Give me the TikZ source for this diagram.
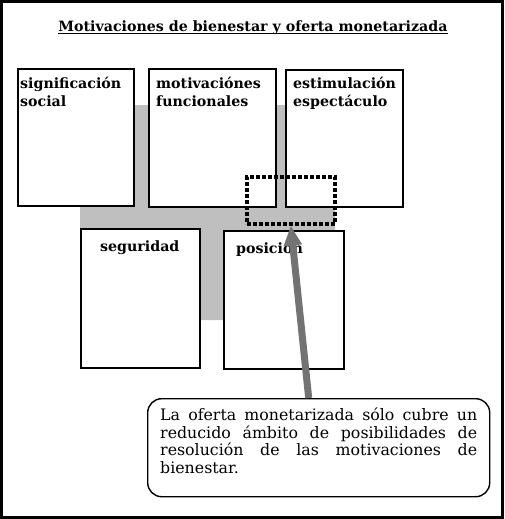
\documentclass[tikz,border=0pt]{standalone}
\usepackage{fontspec}
\setmainfont{DejaVu Serif}
\usetikzlibrary{arrows.meta}

\begin{document}
\begin{tikzpicture}[
  x=1pt, y=-1pt,
  box/.style={draw, line width=1.6pt, fill=white, anchor=north west, inner sep=0pt},
  boxlabel/.style={anchor=north west, align=left, inner sep=0pt, font=\fontsize{14.2}{18}\selectfont\bfseries},
  hatch/.style={draw, line width=3.5pt, dash pattern=on 4pt off 2pt, anchor=north west, inner sep=0pt},
]
  \useasboundingbox (0,0) rectangle (504,519);
  \draw[line width=3pt] (1.5,1.5) rectangle (502.5,517.5);
  \node[anchor=base, inner sep=0pt, font=\fontsize{14.2}{16}\selectfont\bfseries] (title) at (253,32) {Motivaciones de bienestar y oferta monetarizada};
  \draw[line width=1pt] ([yshift=-2pt]title.base west) -- ([yshift=-2pt]title.base east);
  \fill[gray!50, rounded corners=3pt] (80,105) rectangle (335,320);
  \node[box, minimum width=116pt, minimum height=137pt] (sig) at (17,68) {};
  \node[box, minimum width=127pt, minimum height=138pt] (fun) at (148,68) {};
  \node[box, minimum width=117pt, minimum height=137pt] (est) at (285,69) {};
  \node[box, minimum width=119pt, minimum height=139pt] (seg) at (80,228) {};
  \node[box, minimum width=120pt, minimum height=138pt] (pos) at (223,230) {};
  \node[boxlabel] (sigtext) at (20,77) {significación\\social};
  \node[boxlabel] (funtext) at (156,77) {motivaciónes\\funcionales};
  \node[boxlabel] (esttext) at (293,77) {estimulación\\espectáculo};
  \node[boxlabel] (segtext) at (100,241) {seguridad};
  \node[boxlabel] (postext) at (236,242) {posición};
  \node[hatch, minimum width=88pt, minimum height=47pt] (ambito) at (245,175) {};
  \node[draw, line width=1.4pt, fill=white, rounded corners=14pt, anchor=north west,
    minimum width=342pt, minimum height=98pt, text width=317pt, align=justify,
    inner xsep=12.5pt, font=\fontsize{15.8}{17.7}\selectfont] (nota) at (147,398)
    {La oferta monetarizada sólo cubre un\linebreak reducido ámbito de posibilidades de\linebreak resolución de las motivaciones de\linebreak bienestar.\rule[-14pt]{0pt}{14pt}};
  \draw[line width=7pt, black!55, -{Triangle[length=20pt, width=17pt]}] ([xshift=-10pt]nota.north) -- (ambito.south);
\end{tikzpicture}
\end{document}
